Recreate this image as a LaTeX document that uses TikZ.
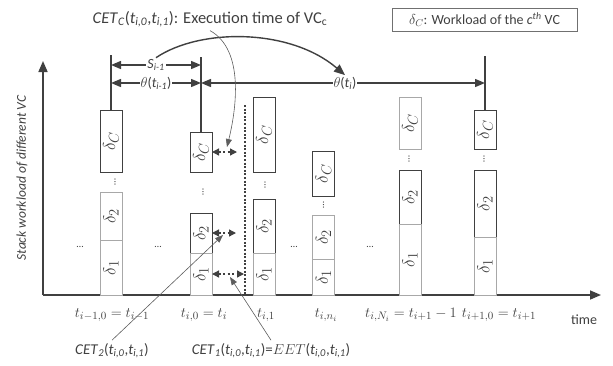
\documentclass[tikz,border=0pt]{standalone}
\usepackage{fontspec}
\setmainfont{Carlito}
\usetikzlibrary{arrows.meta}
\definecolor{ink}{HTML}{404040}
\definecolor{rim}{HTML}{A8A8A8}
\definecolor{keyln}{HTML}{707070}
\newcommand{\tsb}[1]{\textit{t}\textsubscript{\textit{#1}}}
\tikzset{
  every node/.style={font=\fontsize{14}{16}\selectfont,text=ink},
  vc/.style={draw=ink,rotate=90,minimum height=22pt,inner sep=0pt,outer sep=0pt,
             fill=white,line width=0.9pt,font=\fontsize{19}{20}\selectfont},
  lt/.style={vc,draw=rim},
  ax/.style={draw=ink,line width=1.6pt,-{Triangle[length=11pt,width=9pt]}},
  ln/.style={draw=ink,line width=1.4pt},
  span/.style={ln,{Triangle[length=10pt,width=8pt]}-{Triangle[length=10pt,width=8pt]}},
  dd/.style={draw=ink,line width=1.3pt,dash pattern=on 2pt off 2.5pt,
             {Triangle[length=7pt,width=7pt]}-{Triangle[length=7pt,width=7pt]}},
  dv/.style={draw=ink,line width=1.6pt,dash pattern=on 2pt off 1.6pt},
  thin/.style={draw=ink!85,line width=0.6pt,-{Triangle[length=8pt,width=6pt]}},
  lab/.style={fill=white,inner sep=1pt},
  dots/.style={font=\fontsize{10}{10}\selectfont,inner sep=0pt,rotate=90},
  hdots/.style={font=\fontsize{10}{10}\selectfont,inner sep=0pt},
  tlab/.style={font=\fontsize{15.5}{17}\selectfont},
}
\begin{document}
\begin{tikzpicture}[x=1pt,y=-1pt]
\useasboundingbox (0,0) rectangle (613,365);

% ---- axes ----
\coordinate (o) at (43,295);
\coordinate (ytop) at (43,61);
\coordinate (xend) at (601,295);
\draw[ax] (o) -- (ytop);
\draw[ax] (o) -- (xend);
\node[rotate=90,font=\itshape\fontsize{13.5}{15}\selectfont] (ylab) at (22,178) {Stack workload of different VC};
\node[font=\fontsize{14}{16}\selectfont] (time) at (584,320) {time};

% ---- columns of VC workload ----
\node[vc,minimum width=62pt] (c1C) at (111,141) {$\delta_C$};
\node[lt,minimum width=48pt] (c1b) at (111,216) {$\delta_2$};
\node[lt,minimum width=55pt] (c1a) at (111,267.5) {$\delta_1$};

\node[vc,minimum width=40pt] (c2C) at (201,152) {$\delta_C$};
\node[vc,minimum width=40pt] (c2b) at (201,233) {$\delta_2$};
\node[lt,minimum width=42pt] (c2a) at (201,274) {$\delta_1$};

\node[vc,minimum width=75pt] (c3C) at (264,134.5) {$\delta_C$};
\node[vc,minimum width=54pt] (c3b) at (264,226) {$\delta_2$};
\node[lt,minimum width=42pt] (c3a) at (264,274) {$\delta_1$};

\node[vc,minimum width=45pt] (c4C) at (323.5,173.5) {$\delta_C$};
\node[lt,minimum width=44pt] (c4b) at (323.5,237) {$\delta_2$};
\node[lt,minimum width=36pt] (c4a) at (323.5,277) {$\delta_1$};

\node[lt,minimum width=52pt] (c5C) at (410,123) {$\delta_C$};
\node[vc,minimum width=54pt] (c5b) at (410,197) {$\delta_2$};
\node[lt,minimum width=71pt] (c5a) at (410,259.5) {$\delta_1$};

\node[vc,minimum width=39pt] (c6C) at (485,129.5) {$\delta_C$};
\node[vc,minimum width=67pt] (c6b) at (485,203.5) {$\delta_2$};
\node[lt,minimum width=58pt] (c6a) at (485,266) {$\delta_1$};

% ---- vertical and horizontal dots ----
\node[dots] (v1) at (115,182) {\dots};
\node[dots] (v2) at (203,192) {\dots};
\node[dots] (v3) at (265,185) {\dots};
\node[dots] (v4) at (323.5,205) {\dots};
\node[dots] (v5) at (409,159) {\dots};
\node[dots] (v6) at (484,159) {\dots};
\node[hdots] (h1) at (80,247) {\dots};
\node[hdots] (h2) at (158,247) {\dots};
\node[hdots] (h3) at (294,247) {\dots};
\node[hdots] (h4) at (370,247) {\dots};

% ---- period markers ----
\coordinate (c1top) at (111,55);
\coordinate (c2top) at (201,57);
\coordinate (c6top) at (485,56);
\draw[ln] (c1top) -- (c1C.east);
\draw[ln] (c2top) -- (c2C.east);
\draw[ln] (c6top) -- (c6C.east);

\coordinate (sa) at (111,65);
\coordinate (sb) at (201,65);
\coordinate (ta) at (111,83);
\coordinate (tb) at (201,83);
\coordinate (tc) at (485,83);
\draw[span] (sa) -- node[lab] (sl) {\textit{S}\textsubscript{\textit{i-1}}} (sb);
\draw[span] (ta) -- node[lab] (tl0) {$\theta$(\tsb{i-1})} (tb);
\draw[span] (tb) -- node[lab,pos=0.507] (tl) {$\theta$(\tsb{i})} (tc);
\draw[ln,-{Triangle[length=11pt,width=9pt]}] (sl.north) .. controls (200,28) and (290,28) .. (tl.north);

% ---- dashed boundary and execution times ----
\coordinate (dtop) at (245,105);
\coordinate (dbot) at (245,295);
\draw[dv] (dtop) -- (dbot);
\coordinate (eC) at (237,152);
\coordinate (e2) at (236,233);
\coordinate (e1) at (244,274);
\draw[dd] (c2C.south) -- (eC);
\draw[dd] (c2b.south) -- (e2);
\draw[dd] (c2a.south) -- (e1);

% ---- time labels ----
\node[tlab] (x1) at (112,315) {$t_{i-1,0}=t_{i-1}$};
\node[tlab] (x2) at (204,315) {$t_{i,0}=t_i$};
\node[tlab] (x3) at (266,315) {$t_{i,1}$};
\node[tlab] (x4) at (326,315) {$t_{i,n_i}$};
\node[tlab] (x5) at (411,315) {$t_{i,N_i}=t_{i+1}-1$};
\node[tlab] (x6) at (499,315) {$t_{i+1,0}=t_{i+1}$};

% ---- annotations ----
\node[font=\fontsize{16.5}{18}\selectfont] (cetc) at (210,19)
  {\textit{CET}\textsubscript{\textit{C}}(\tsb{i,0},\tsb{i,1}): Execution time of VC\textsubscript{c}};
\node[draw=keyln,line width=0.8pt,minimum width=185pt,minimum height=23pt,inner sep=2pt] (key) at (484.5,19.5)
  {$\delta_C$: Workload of the \textit{c}\textsuperscript{\textit{th}} VC};
\coordinate (qC) at (227,147);
\draw[thin] (cetc.south) .. controls (245,50) and (236,110) .. (qC);

\node[font=\fontsize{15}{17}\selectfont] (cet2) at (112,351)
  {\textit{CET}\textsubscript{\textit{2}}(\tsb{i,0},\tsb{i,1})};
\node[font=\fontsize{15}{17}\selectfont] (cet1) at (271,351)
  {\textit{CET}\textsubscript{\textit{1}}(\tsb{i,0},\tsb{i,1})=$EET$(\tsb{i,0},\tsb{i,1})};
\coordinate (q2) at (223,235);
\coordinate (q1) at (230,277);
\draw[thin] (cet2.north) -- (q2);
\draw[thin] (cet1.north) -- (q1);

\end{tikzpicture}
\end{document}
